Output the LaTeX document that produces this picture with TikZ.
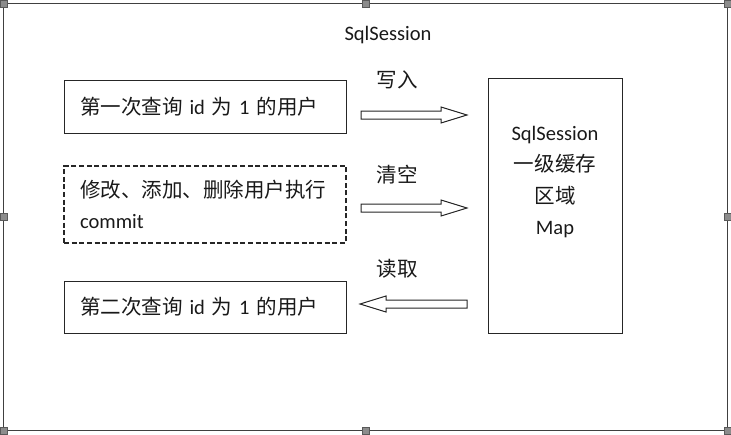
\documentclass[tikz,border=0pt]{standalone}
\usepackage{fontspec}
\setmainfont{Carlito}
\newfontfamily\cjk{Noto Sans CJK SC}
\usetikzlibrary{calc}

\newcommand{\zh}[1]{{\cjk #1}}
% hollow block arrow from #1 (tail) to #2 (tip)
\newcommand{\hollowarrow}[2]{%
  \draw[fatarrow] ($(#1)+(0,-4)$) -- ($(#2)!19.5pt!(#1)+(0,-4)$) -- ($(#2)!19.5pt!(#1)+(0,-8)$)
    -- (#2) -- ($(#2)!19.5pt!(#1)+(0,8)$) -- ($(#2)!19.5pt!(#1)+(0,4)$) -- ($(#1)+(0,4)$) -- cycle;}

\tikzset{
  box/.style={draw=black!85, line width=0.75pt, minimum height=39pt, text width=187.5pt,
    inner xsep=12pt, align=left},
  fatarrow/.style={draw=black!85, line width=0.75pt, fill=white},
  handle/.style={draw=black!65, fill=black!45, minimum size=5.25pt, inner sep=0pt, line width=0.5pt},
}

\begin{document}
\begin{tikzpicture}[x=0.75pt, y=-0.75pt, font=\fontsize{15.4pt}{23.5pt}\selectfont, text=black!90]
				\useasboundingbox (0,0) rectangle (731,435);
				
				\coordinate (a1) at (361,115);
				\coordinate (b1) at (467,115);
				\coordinate (a2) at (361,208);
				\coordinate (b2) at (467,208);
				\coordinate (a3) at (467,304);
				\coordinate (b3) at (360,304);
				
				\node[draw=black!75, line width=0.75pt, outer sep=0pt, minimum width=543pt, minimum height=319.9pt] (frame) at (365.5,217.25) {};
				\foreach \a in {north west,north,north east,east,south east,south,south west,west}
					\node[handle] at (frame.\a) {};
				
				\node (title) at (388,35) {SqlSession};
				
				\node[box] (first) at (205,107) {\zh{第一次查询} id \zh{为} 1 \zh{的用户}};
				\node[box, line width=1.1pt, dash pattern=on 3.75pt off 2pt, minimum height=57.75pt] (update) at (205,204.5) {\zh{修改、添加、删除用户执行}\\commit};
				\node[box] (second) at (205,307) {\zh{第二次查询} id \zh{为} 1 \zh{的用户}};
				
				\node[draw=black!85, line width=0.75pt, minimum width=100.5pt, minimum height=190.5pt] (cache) at (555,206) {};
				\node[align=center] (cachetext) at (555,182) {SqlSession\\\zh{一级缓存}\\\zh{区域}\\Map};
				
				\node (write) at (397,80) {\zh{写入}};
				\node (clear) at (397,175) {\zh{清空}};
				\node (read) at (397,269) {\zh{读取}};
				
				\hollowarrow{a1}{b1}
				\hollowarrow{a2}{b2}
				\hollowarrow{a3}{b3}
			\end{tikzpicture}
\end{document}
